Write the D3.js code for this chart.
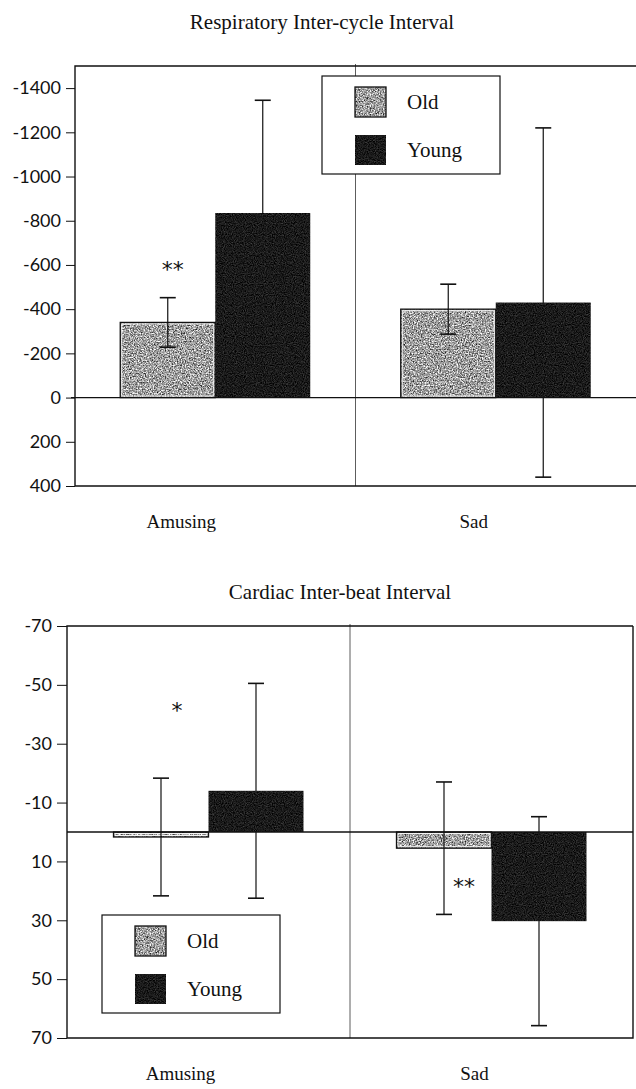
<!DOCTYPE html>
<html><head><meta charset="utf-8">
<script src="https://cdn.jsdelivr.net/npm/d3@7"></script>
<style>body{margin:0;background:#fff}svg{display:block}</style>
</head><body>
<svg id="c" width="636" height="1089"></svg>
<script>
// ---- data ----
const categories = ["Amusing", "Sad"];
const groups = ["Old", "Young"];
// Respiratory inter-cycle interval (means and error bars)
const respOld = [-340, -400];
const respYoung = [-835, -430];
const respOldErr = [112, 113];
const respYoungErr = [510, 790];
const respTicks = [-1400, -1200, -1000, -800, -600, -400, -200, 0, 200, 400];
const respTickLabels = ["-1400", "-1200", "-1000", "-800", "-600", "-400", "-200", "0", "200", "400"];
// Cardiac inter-beat interval
const cardOld = [1.7, 5.5];
const cardYoung = [-14, 30.3];
const cardOldErr = [20, 22.5];
const cardYoungErr = [36.5, 35.5];
const cardTicks = [-70, -50, -30, -10, 10, 30, 50, 70];
const cardTickLabels = ["-70", "-50", "-30", "-10", "10", "30", "50", "70"];
// significance marks: [category, group, yValue, text]
const respMarks = [["Amusing", "Old", -590, "**"]];
const cardMarks = [["Amusing", "Old", -42, "*"], ["Sad", "Old", 17.5, "**"]];

const svg = d3.select("#c");
const SERIF = "'Liberation Serif', 'DejaVu Serif', serif";
const SANS = "Lato, 'Open Sans', sans-serif";

// textures
const defs = svg.append("defs");
function grain(id, slope, intercept, freq) {
  const f = defs.append("filter").attr("id", id)
    .attr("x", 0).attr("y", 0).attr("width", 1).attr("height", 1)
    .attr("color-interpolation-filters", "sRGB");
  f.append("feTurbulence").attr("type", "fractalNoise").attr("baseFrequency", freq)
    .attr("numOctaves", 2).attr("seed", 4).attr("result", "n");
  f.append("feColorMatrix").attr("in", "n").attr("type", "saturate").attr("values", 0).attr("result", "g");
  const ct = f.append("feComponentTransfer").attr("in", "g").attr("result", "c");
  ["R", "G", "B"].forEach(ch => ct.append("feFunc" + ch).attr("type", "linear").attr("slope", slope).attr("intercept", intercept));
  ct.append("feFuncA").attr("type", "linear").attr("slope", 0).attr("intercept", 1);
  f.append("feComposite").attr("in", "c").attr("in2", "SourceGraphic").attr("operator", "in");
}
grain("gOld", 2.0, -0.38, 0.75);
grain("gYoung", 0.55, -0.17, 0.9);

function chart(cfg) {
  const g = svg.append("g");
  const {L, R, T, B} = cfg;
  const x = d3.scaleBand().domain(categories).range([L, R]).padding(0);
  const xg = d3.scaleBand().domain(groups).range([-95, 95]).padding(0);
  const y = d3.scaleLinear().domain(cfg.domain).range([T, B]);
  const bw = xg.bandwidth();
  const cx = (c, gr) => x(c) + x.bandwidth() / 2 + xg(gr);

  // title
  g.append("text").attr("x", cfg.titleX).attr("y", cfg.titleY).attr("text-anchor", "middle")
    .attr("font-family", SERIF).attr("font-size", 21).attr("fill", "#111").text(cfg.title);

  // divider
  g.append("line").attr("x1", x("Sad")).attr("x2", x("Sad")).attr("y1", T - 2).attr("y2", B)
    .attr("stroke", "#333").attr("stroke-width", 0.8);

  // frame
  g.append("path").attr("d", `M${R},${T}H${L}V${B}H${R}` + (cfg.rightBorder ? `V${T}` : ""))
    .attr("fill", "none").attr("stroke", "#111").attr("stroke-width", 1.4);

  // y axis
  const ax = g.append("g").attr("transform", `translate(${L},0)`)
    .call(d3.axisLeft(y).tickValues(cfg.ticks).tickSize(cfg.tickLen).tickPadding(5)
      .tickFormat((d, i) => cfg.tickLabels[i]));
  ax.select(".domain").remove();
  ax.selectAll(".tick line").attr("stroke", "#111").attr("stroke-width", 1);
  ax.selectAll(".tick text").attr("font-family", SANS).attr("font-size", 18).attr("fill", "#111");

  // x labels
  g.selectAll(".xl").data(categories).join("text")
    .attr("x", (d, i) => x(d) + x.bandwidth() / 2 + cfg.labelShift[i]).attr("y", cfg.xLabelY).attr("text-anchor", "middle")
    .attr("font-family", SERIF).attr("font-size", 19).attr("fill", "#111").text(d => d);

  const data = [];
  categories.forEach((c, i) => {
    data.push({c, gr: "Old", v: cfg.old[i], e: cfg.oldErr[i]});
    data.push({c, gr: "Young", v: cfg.young[i], e: cfg.youngErr[i]});
  });

  function errBar(d) {
    const xm = cx(d.c, d.gr) + bw / 2;
    const ya = y(d.v - d.e), yb = y(d.v + d.e);
    g.append("line").attr("x1", xm).attr("x2", xm).attr("y1", ya).attr("y2", yb)
      .attr("stroke", "#111").attr("stroke-width", 1.2);
    [ya, yb].forEach(yy => g.append("line").attr("x1", xm - 8).attr("x2", xm + 8).attr("y1", yy).attr("y2", yy)
      .attr("stroke", "#111").attr("stroke-width", 1.6));
  }

  // young error bars sit behind their dark bars
  data.filter(d => d.gr === "Young").forEach(errBar);

  // bars
  data.forEach(d => {
    const x0 = cx(d.c, d.gr);
    const y0 = Math.min(y(0), y(d.v)), h = Math.abs(y(d.v) - y(0));
    g.append("rect").attr("x", x0).attr("y", y0).attr("width", bw).attr("height", h)
      .attr("fill", d.gr === "Old" ? "#999" : "#111")
      .attr("filter", `url(#g${d.gr})`);
    if (d.gr === "Old") {
      g.append("rect").attr("x", x0 + 1.5).attr("y", y0 + 1.5).attr("width", bw - 3).attr("height", Math.max(0, h - 3))
        .attr("fill", "none").attr("stroke", "#f4f4f4").attr("stroke-width", 1);
      g.append("rect").attr("x", x0).attr("y", y0).attr("width", bw).attr("height", h)
        .attr("fill", "none").attr("stroke", "#111").attr("stroke-width", 1.3);
    }
  });

  // zero line
  g.append("line").attr("x1", L - cfg.zeroExt).attr("x2", R).attr("y1", y(0)).attr("y2", y(0))
    .attr("stroke", "#111").attr("stroke-width", 1.3);

  // old error bars on top
  data.filter(d => d.gr === "Old").forEach(errBar);

  // significance marks
  cfg.marks.forEach((m, i) => {
    g.append("text").attr("x", cx(m[0], m[1]) + bw / 2 + cfg.markShift[i]).attr("y", y(m[2]) + 10)
      .attr("text-anchor", "middle").attr("font-family", "'DejaVu Sans', sans-serif").attr("font-size", 22)
      .attr("fill", "#111").text(m[3]);
  });

  // legend
  const lg = g.append("g").attr("transform", `translate(${cfg.legX},${cfg.legY})`);
  lg.append("rect").attr("width", 178).attr("height", 98).attr("fill", "#fff")
    .attr("stroke", "#111").attr("stroke-width", 1.2);
  groups.forEach((gr, i) => {
    lg.append("rect").attr("x", 33).attr("y", 11 + i * 48).attr("width", 31).attr("height", 30)
      .attr("fill", gr === "Old" ? "#999" : "#111").attr("filter", `url(#g${gr})`);
    if (gr === "Old") lg.append("rect").attr("x", 33).attr("y", 11).attr("width", 31).attr("height", 30)
      .attr("fill", "none").attr("stroke", "#111").attr("stroke-width", 1.3);
    lg.append("text").attr("x", 85).attr("y", 33 + i * 48).attr("font-family", SERIF).attr("font-size", 21)
      .attr("fill", "#111").text(gr);
  });
}

chart({L: 75, R: 636, T: 66, B: 486, domain: [-1500, 400], ticks: respTicks, tickLabels: respTickLabels,
  tickLen: 9, old: respOld, young: respYoung, oldErr: respOldErr, youngErr: respYoungErr,
  title: "Respiratory Inter-cycle Interval", titleX: 322, titleY: 29, xLabelY: 528, labelShift: [-34, -22],
  legX: 322, legY: 76, marks: respMarks, markShift: [5], zeroExt: 4, rightBorder: false});

chart({L: 67, R: 633, T: 626, B: 1038, domain: [-70, 70], ticks: cardTicks, tickLabels: cardTickLabels,
  tickLen: 10, old: cardOld, young: cardYoung, oldErr: cardOldErr, youngErr: cardYoungErr,
  title: "Cardiac Inter-beat Interval", titleX: 340, titleY: 599, xLabelY: 1080, labelShift: [-28, -17],
  legX: 102, legY: 915, marks: cardMarks, markShift: [16, 20], zeroExt: 0, rightBorder: true});
</script>
</body></html>
